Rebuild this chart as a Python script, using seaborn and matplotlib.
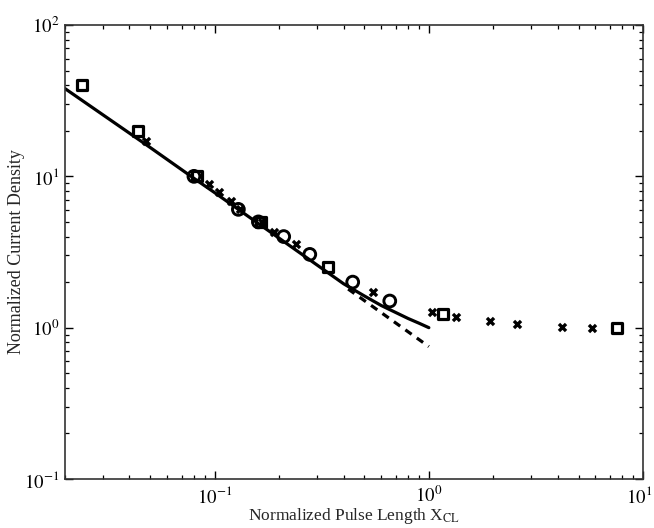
import numpy as np
import pandas as pd
import matplotlib
matplotlib.use("Agg")
import matplotlib.pyplot as plt
import matplotlib.transforms as mtransforms
import seaborn as sns

# ---- data ----
sq_x = [0.0239, 0.0437, 0.083, 0.165, 0.337, 1.17, 7.6]
sq_y = [40.0, 20.0, 10.0, 5.0, 2.5, 1.24, 0.99]

circ_x = [0.080, 0.129, 0.160, 0.210, 0.278, 0.441, 0.657]
circ_y = [10.0, 6.05, 5.0, 4.0, 3.05, 2.0, 1.5]

cross_x = [0.0476, 0.0938, 0.105, 0.119, 0.131, 0.166, 0.189, 0.239, 0.547,
           1.04, 1.34, 1.93, 2.58, 4.18, 5.77]
cross_y = [17.0, 8.85, 7.9, 6.9, 6.1, 5.0, 4.3, 3.55, 1.71,
           1.26, 1.18, 1.10, 1.06, 1.01, 0.99]

solid_x = [0.02, 0.05, 0.08, 0.1, 0.2, 0.3, 0.4, 0.5, 0.6, 0.7, 0.8, 0.9, 1.0]
solid_y = [38.0, 15.5, 9.7, 7.8, 3.9, 2.6, 1.95, 1.62, 1.40, 1.26, 1.15, 1.07, 1.0]

dash_x = [0.42, 1.0]
dash_y = [1.80, 0.75]

x_ticks = [1e-1, 1e0, 1e1]
x_ticklabels = [r"$10^{-1}$", r"$10^{0}$", r"$10^{1}$"]
y_ticks = [1e-1, 1e0, 1e1, 1e2]
y_ticklabels = [r"$10^{-1}$", r"$10^{0}$", r"$10^{1}$", r"$10^{2}$"]

sns.set_theme(style="ticks")
plt.rcParams["font.family"] = ["Liberation Serif", "DejaVu Serif"]
plt.rcParams["mathtext.fontset"] = "stix"

fig = plt.figure(figsize=(6.54, 5.28), dpi=100)
ax = fig.add_axes([65/654, 1 - 479/528, (643-65)/654, (479-25)/528])

sns.lineplot(x=dash_x, y=dash_y, ax=ax, color="black", lw=2.3,
             linestyle=(0, (2.4, 2.0)), estimator=None, sort=False)
sns.lineplot(x=solid_x, y=solid_y, ax=ax, color="black", lw=2.3,
             estimator=None, sort=False)
sns.scatterplot(x=cross_x, y=cross_y, ax=ax, marker="x", s=26,
                color="black", linewidth=2.4, zorder=4)
sns.scatterplot(x=circ_x, y=circ_y, ax=ax, marker="o", s=72,
                facecolor="none", edgecolor="black", linewidth=2.1, zorder=4)
sns.scatterplot(x=sq_x, y=sq_y, ax=ax, marker="s", s=52,
                facecolor="none", edgecolor="black", linewidth=2.3, zorder=4)

ax.set_xscale("log")
ax.set_yscale("log")
ax.set_xlim(0.02, 10)
ax.set_ylim(0.1, 100)
ax.set_xticks(x_ticks)
ax.set_xticklabels(x_ticklabels)
ax.set_yticks(y_ticks)
ax.set_yticklabels(y_ticklabels)

for s in ax.spines.values():
    s.set_visible(True)
    s.set_color("#333333")
    s.set_linewidth(1.2)

ax.tick_params(which="both", direction="in", top=True, right=True,
               colors="black", labelsize=13.5)
ax.tick_params(which="major", length=6, width=1.0)
ax.tick_params(which="minor", length=3, width=0.9)
ax.tick_params(axis="x", which="major", pad=5)
ax.tick_params(axis="y", which="major", pad=4)

# keep the rightmost x tick label inside the canvas
last = ax.get_xticklabels()[-1]
last.set_transform(last.get_transform() +
                   mtransforms.ScaledTranslation(-4/100, 0, fig.dpi_scale_trans))

ax.set_xlabel(r"Normalized Pulse Length X$_{\mathrm{CL}}$", fontsize=12.5)
ax.set_ylabel("Normalized Current Density", fontsize=13)
ax.xaxis.set_label_coords(0.5, -27/454)
ax.yaxis.set_label_coords(-40/578, 0.5)

fig.savefig("out.png", dpi=100)
